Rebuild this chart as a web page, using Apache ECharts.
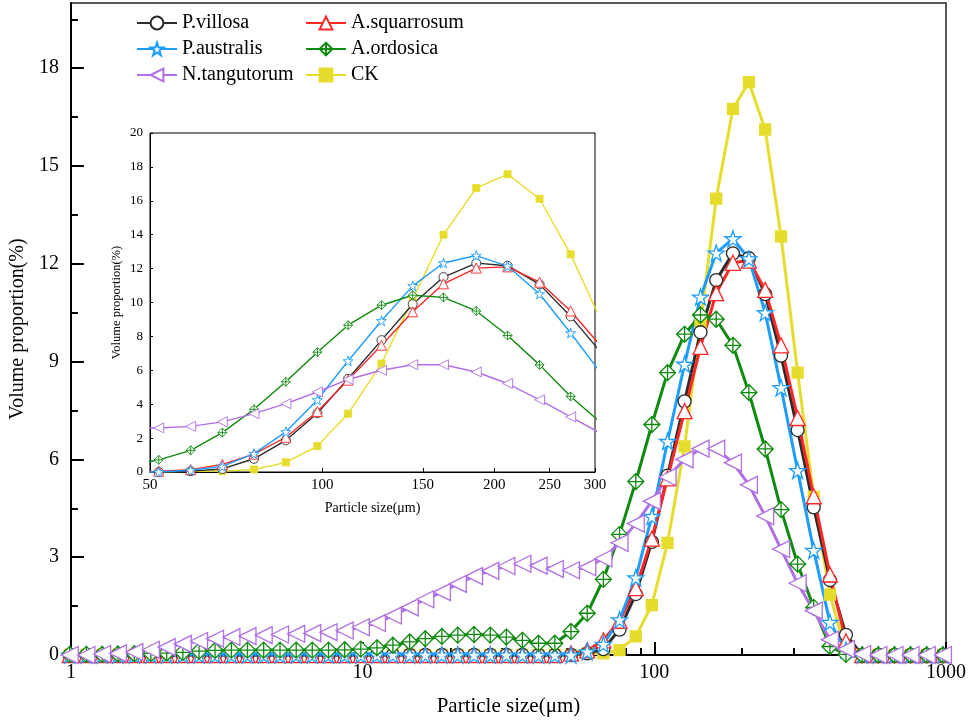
<!DOCTYPE html>
<html><head><meta charset="utf-8">
<script src="https://cdn.jsdelivr.net/npm/echarts@6/dist/echarts.min.js"></script>
<style>html,body{margin:0;padding:0;background:#fff}#c{width:969px;height:722px}</style>
</head><body><div id="c"></div>
<script>
// Particle size classes (µm)
const sizes = [0.991,1.13,1.28,1.45,1.65,1.88,2.13,2.42,2.75,3.12,3.55,4.03,4.58,5.21,5.92,6.72,7.64,8.68,9.86,11.2,
  12.7,14.5,16.4,18.7,21.2,24.1,27.4,31.1,35.3,40.1,45.6,51.8,58.9,66.9,76.0,86.4,98.1,111,127,144,
  163,186,211,240,272,310,352,400,454,516,586,666,756,859,976];
const pVillosa = [0,0,0,0,0,0,0,0,0,0,0,0,0,0,0,0,0,0,0,0,
  0,0,0,0,0,0,0,0,0,0,0,0,0.05,0.18,0.78,1.87,3.47,5.5,7.78,9.9,
  11.5,12.32,12.17,11.07,9.18,6.9,4.53,2.3,0.62,0,0,0,0,0,0];
const aSquarrosum = [0,0,0,0,0,0,0,0,0,0,0,0,0,0,0,0,0,0,0,0,
  0,0,0,0,0,0,0,0,0,0,0,0.05,0.14,0.45,1.05,2.05,3.57,5.42,7.48,9.45,
  11.1,12.03,12.1,11.2,9.5,7.27,4.87,2.47,0.42,0,0,0,0,0,0];
const pAustralis = [0,0,0,0,0,0,0,0,0,0,0,0,0,0,0,0,0,0,0,0,
  0,0,0,0,0,0,0,0,0,0,0,0,0.1,0.33,1.08,2.37,4.25,6.55,8.92,10.98,
  12.33,12.77,12.15,10.5,8.2,5.66,3.21,1.0,0.15,0,0,0,0,0,0];
const aOrdosica = [0.02,0.02,0.02,0.03,0.04,0.05,0.06,0.08,0.12,0.14,0.15,0.15,0.15,0.15,0.15,0.15,0.15,0.16,0.18,0.22,
  0.3,0.4,0.5,0.57,0.61,0.63,0.61,0.55,0.45,0.36,0.36,0.72,1.28,2.32,3.7,5.32,7.07,8.66,9.84,10.43,
  10.3,9.5,8.05,6.32,4.46,2.79,1.46,0.26,0.02,0,0,0,0,0,0];
const nTangutorum = [0,0,0.03,0.05,0.09,0.16,0.24,0.34,0.43,0.5,0.55,0.58,0.61,0.63,0.65,0.67,0.7,0.75,0.85,0.98,
  1.21,1.46,1.71,1.93,2.18,2.42,2.58,2.73,2.8,2.74,2.64,2.6,2.69,2.96,3.44,4.03,4.72,5.46,6.0,6.33,
  6.33,5.9,5.22,4.26,3.25,2.2,1.36,0.47,0.18,0.03,0,0,0,0,0];
const ck = [0,0,0,0,0,0,0,0,0,0,0,0,0,0,0,0,0,0,0,0,
  0,0,0,0,0,0,0,0,0,0,0,0,0.04,0.05,0.15,0.57,1.53,3.44,6.4,10.2,
  14.0,16.75,17.57,16.12,12.84,8.66,4.85,1.85,0.12,0,0,0,0,0,0];

const mainYTicks = [0,3,6,9,12,15,18];
const mainYMinor = [1.5,4.5,7.5,10.5,13.5,16.5,19.5];
const mainXTicks = [1,10,100,1000];
const mainXMinor = [2,3,4,5,6,7,8,9,20,30,40,50,60,70,80,90,200,300,400,500,600,700,800,900];
const insetXTicks = [50,100,150,200,250,300];

const FONT = 'Liberation Serif';
const STAR = 'path://M50,2 L61,36 L97,36 L68,57 L79,92 L50,71 L21,92 L32,57 L3,36 L39,36 Z';
const DIAM = 'path://M50,0 L100,50 L50,100 L0,50 Z M50,0 L50,100 M0,50 L100,50';
const LTRI = 'path://M0,50 L100,0 L100,100 Z';

const defs = [
  {name:'CK', data:ck, color:'#E6DC2C', symbol:'rect', fill:true, size:11, isize:7},
  {name:'P.villosa', data:pVillosa, color:'#2b2b2b', symbol:'circle', size:13, isize:9},
  {name:'A.squarrosum', data:aSquarrosum, color:'#FF2626', symbol:'triangle', size:15, isize:10},
  {name:'P.australis', data:pAustralis, color:'#1C9DFF', symbol:STAR, size:16, isize:10},
  {name:'A.ordosica', data:aOrdosica, color:'#0E8A0E', symbol:DIAM, size:16, isize:9},
  {name:'N.tangutorum', data:nTangutorum, color:'#B06FE4', symbol:LTRI, size:17, isize:10}
];

const series = [];
defs.forEach(d => {
  const pts = sizes.map((s,i)=>[s, d.data[i]]);
  series.push({
    name:d.name, type:'line', xAxisIndex:0, yAxisIndex:0, data:pts,
    symbol:d.symbol, symbolSize:d.size, showAllSymbol:true, clip:false,
    lineStyle:{color:d.color, width:3},
    itemStyle:{color:d.fill?d.color:'#fff', borderColor:d.color, borderWidth:1.3},
    emphasis:{disabled:true}, z:2
  });
});
defs.forEach(d => {
  const pts = sizes.map((s,i)=>[s, d.data[i]]);
  series.push({
    name:'inset '+d.name, type:'line', xAxisIndex:2, yAxisIndex:2, data:pts,
    symbol:d.symbol, symbolSize:d.isize, showAllSymbol:true, clip:true,
    lineStyle:{color:d.color, width:1.4},
    itemStyle:{color:d.fill?d.color:'#fff', borderColor:d.color, borderWidth:0.9},
    emphasis:{disabled:true}, z:5
  });
});

const legendCommon = {orient:'vertical', itemWidth:40, itemHeight:16, itemGap:6, selectedMode:false,
  textStyle:{fontFamily:FONT, fontSize:20, color:'#000'}};

const plain = v => String(v);

const option = {
  animation:false,
  backgroundColor:'#fff',
  legend:[
    Object.assign({data:['P.villosa','P.australis','N.tangutorum'], left:131, top:8}, legendCommon),
    Object.assign({data:['A.squarrosum','A.ordosica','CK'], left:300, top:8}, legendCommon)
  ],
  grid:[
    {left:62, right:22, top:3, bottom:64, show:true, borderColor:'#222', borderWidth:1.5, backgroundColor:'transparent'},
    {left:150, right:374, top:133, bottom:250, show:true, borderColor:'#000', borderWidth:1, backgroundColor:'#fff', z:4}
  ],
  xAxis:[
    {type:'log', logBase:10, gridIndex:0, min:1, max:1000, position:'bottom',
      axisLine:{lineStyle:{color:'#000', width:2}},
      axisTick:{inside:true, length:13, customValues:mainXTicks, lineStyle:{color:'#000', width:2}},
      axisLabel:{fontFamily:FONT, fontSize:20, color:'#000', margin:8, customValues:mainXTicks, formatter:plain},
      splitLine:{show:false},
      name:'Particle size(μm)', nameLocation:'middle', nameGap:41,
      nameTextStyle:{fontFamily:FONT, fontSize:21, color:'#000'}},
    {type:'log', logBase:10, gridIndex:0, min:1, max:1000, position:'bottom',
      axisLine:{show:false},
      axisTick:{inside:true, length:7, customValues:mainXMinor, lineStyle:{color:'#000', width:2}},
      axisLabel:{show:false}, splitLine:{show:false}},
    {type:'log', logBase:10, gridIndex:1, min:50, max:300, z:5, position:'bottom',
      axisLine:{lineStyle:{color:'#000', width:1}},
      axisTick:{inside:true, length:4, customValues:insetXTicks, lineStyle:{color:'#000'}},
      axisLabel:{fontFamily:FONT, fontSize:15, color:'#000', margin:6, customValues:insetXTicks, formatter:plain},
      splitLine:{show:false},
      name:'Particle size(μm)', nameLocation:'middle', nameGap:29,
      nameTextStyle:{fontFamily:FONT, fontSize:14, color:'#000'}}
  ],
  yAxis:[
    {type:'value', gridIndex:0, min:0, max:20, position:'left',
      axisLine:{show:true, lineStyle:{color:'#000', width:2}},
      axisTick:{show:true, inside:true, length:13, customValues:mainYTicks, lineStyle:{color:'#000', width:2}},
      axisLabel:{fontFamily:FONT, fontSize:20, color:'#000', margin:12, customValues:mainYTicks},
      splitLine:{show:false},
      name:'Volume proportion(%)', nameLocation:'middle', nameGap:39,
      nameTextStyle:{fontFamily:FONT, fontSize:20, color:'#000'}},
    {type:'value', gridIndex:0, min:0, max:20, position:'left',
      axisLine:{show:false},
      axisTick:{show:true, inside:true, length:7, customValues:mainYMinor, lineStyle:{color:'#000', width:2}},
      axisLabel:{show:false}, splitLine:{show:false}},
    {type:'value', gridIndex:1, min:0, max:20, interval:2, z:5, position:'left',
      axisLine:{show:true, lineStyle:{color:'#000', width:1}},
      axisTick:{show:true, inside:true, length:3, lineStyle:{color:'#000'}},
      axisLabel:{fontFamily:FONT, fontSize:13, color:'#000', margin:7},
      splitLine:{show:false},
      name:'Volume proportion(%)', nameLocation:'middle', nameGap:27,
      nameTextStyle:{fontFamily:FONT, fontSize:12.5, color:'#000'}}
  ],
  series:series
};
const chart = echarts.init(document.getElementById('c'), null, {renderer:'canvas'});
chart.setOption(option);
</script></body></html>
